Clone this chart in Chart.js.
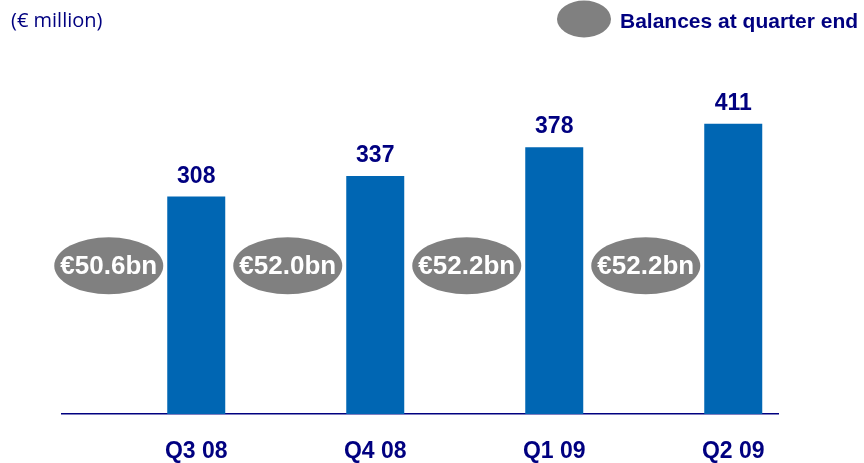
<!DOCTYPE html>
<html>
<head>
<meta charset="utf-8">
<script src="https://cdn.jsdelivr.net/npm/chart.js@4/dist/chart.umd.min.js"></script>
<style>
  html, body { margin: 0; padding: 0; background: #fff; }
  #wrap { width: 864px; height: 463px; }
</style>
</head>
<body>
<div id="wrap"><canvas id="barChart"></canvas></div>
<script>
// dados
const quarters = ['Q3 08', 'Q4 08', 'Q1 09', 'Q2 09'];
const values = [308, 337, 378, 411];
const balances = ['€50.6bn', '€52.0bn', '€52.2bn', '€52.2bn'];
const balanceAmounts = [50.6, 52.0, 52.2, 52.2];

const navy = '#000080';
const blue = '#0066B3';
const grey = '#808080';
const ellipseLevel = 210; // altura das elipses, em unidades do eixo y

// desenha elipses, valores, rótulos e legenda
const extras = {
    id: 'extras',
    afterDatasetsDraw(chart) {
        const ctx = chart.ctx;
        const y = chart.scales.y;
        const ellMeta = chart.getDatasetMeta(0);
        const barMeta = chart.getDatasetMeta(1);
        ctx.save();
        ctx.textAlign = 'center';

        ellMeta.data.forEach((el, i) => {
            const cx = el.x + 2;
            const cy = y.getPixelForValue(ellipseLevel);
            ctx.fillStyle = grey;
            ctx.beginPath();
            ctx.ellipse(cx, cy, 54.5, 28.5, 0, 0, Math.PI * 2);
            ctx.fill();
            ctx.fillStyle = '#fff';
            ctx.font = 'bold 26px "Liberation Sans", Arial, sans-serif';
            ctx.textBaseline = 'middle';
            ctx.fillText(balances[i], cx, cy + 1);
        });

        barMeta.data.forEach((el, i) => {
            ctx.fillStyle = navy;
            ctx.textBaseline = 'alphabetic';
            ctx.font = 'bold 23px "Liberation Sans", Arial, sans-serif';
            ctx.fillText(values[i], el.x, el.y - 14);
            ctx.fillText(quarters[i], el.x, chart.chartArea.bottom + 44);
        });

        // legenda
        ctx.fillStyle = grey;
        ctx.beginPath();
        ctx.ellipse(584, 19, 27, 18.5, 0, 0, Math.PI * 2);
        ctx.fill();
        ctx.fillStyle = navy;
        ctx.textAlign = 'left';
        ctx.font = 'bold 21px "Liberation Sans", Arial, sans-serif';
        ctx.fillText('Balances at quarter end', 620, 28);

        ctx.font = '20px "Open Sans", sans-serif';
        ctx.fillText('(€ million)', 11, 27);
        ctx.restore();
    }
};

const barCtx = document.getElementById('barChart').getContext('2d');
const barChart = new Chart(barCtx, {
    type: 'bar',
    data: {
        labels: quarters,
        datasets: [{
            label: 'Balances at quarter end',
            data: balanceAmounts,
            backgroundColor: 'rgba(0,0,0,0)'
        }, {
            label: '€ million',
            data: values,
            backgroundColor: blue
        }]
    },
    options: {
        responsive: true,
        maintainAspectRatio: false,
        animation: false,
        categoryPercentage: 1.0,
        barPercentage: 0.648,
        layout: { padding: { left: 62, right: 86, top: 61, bottom: 49 } },
        plugins: {
            legend: { display: false },
            tooltip: { enabled: false }
        },
        scales: {
            x: {
                grid: { display: false, drawTicks: false },
                ticks: { display: false },
                border: { color: navy, width: 1.5 }
            },
            y: { display: false, min: 0, max: 500 }
        }
    },
    plugins: [extras]
});
</script>
</body>
</html>
